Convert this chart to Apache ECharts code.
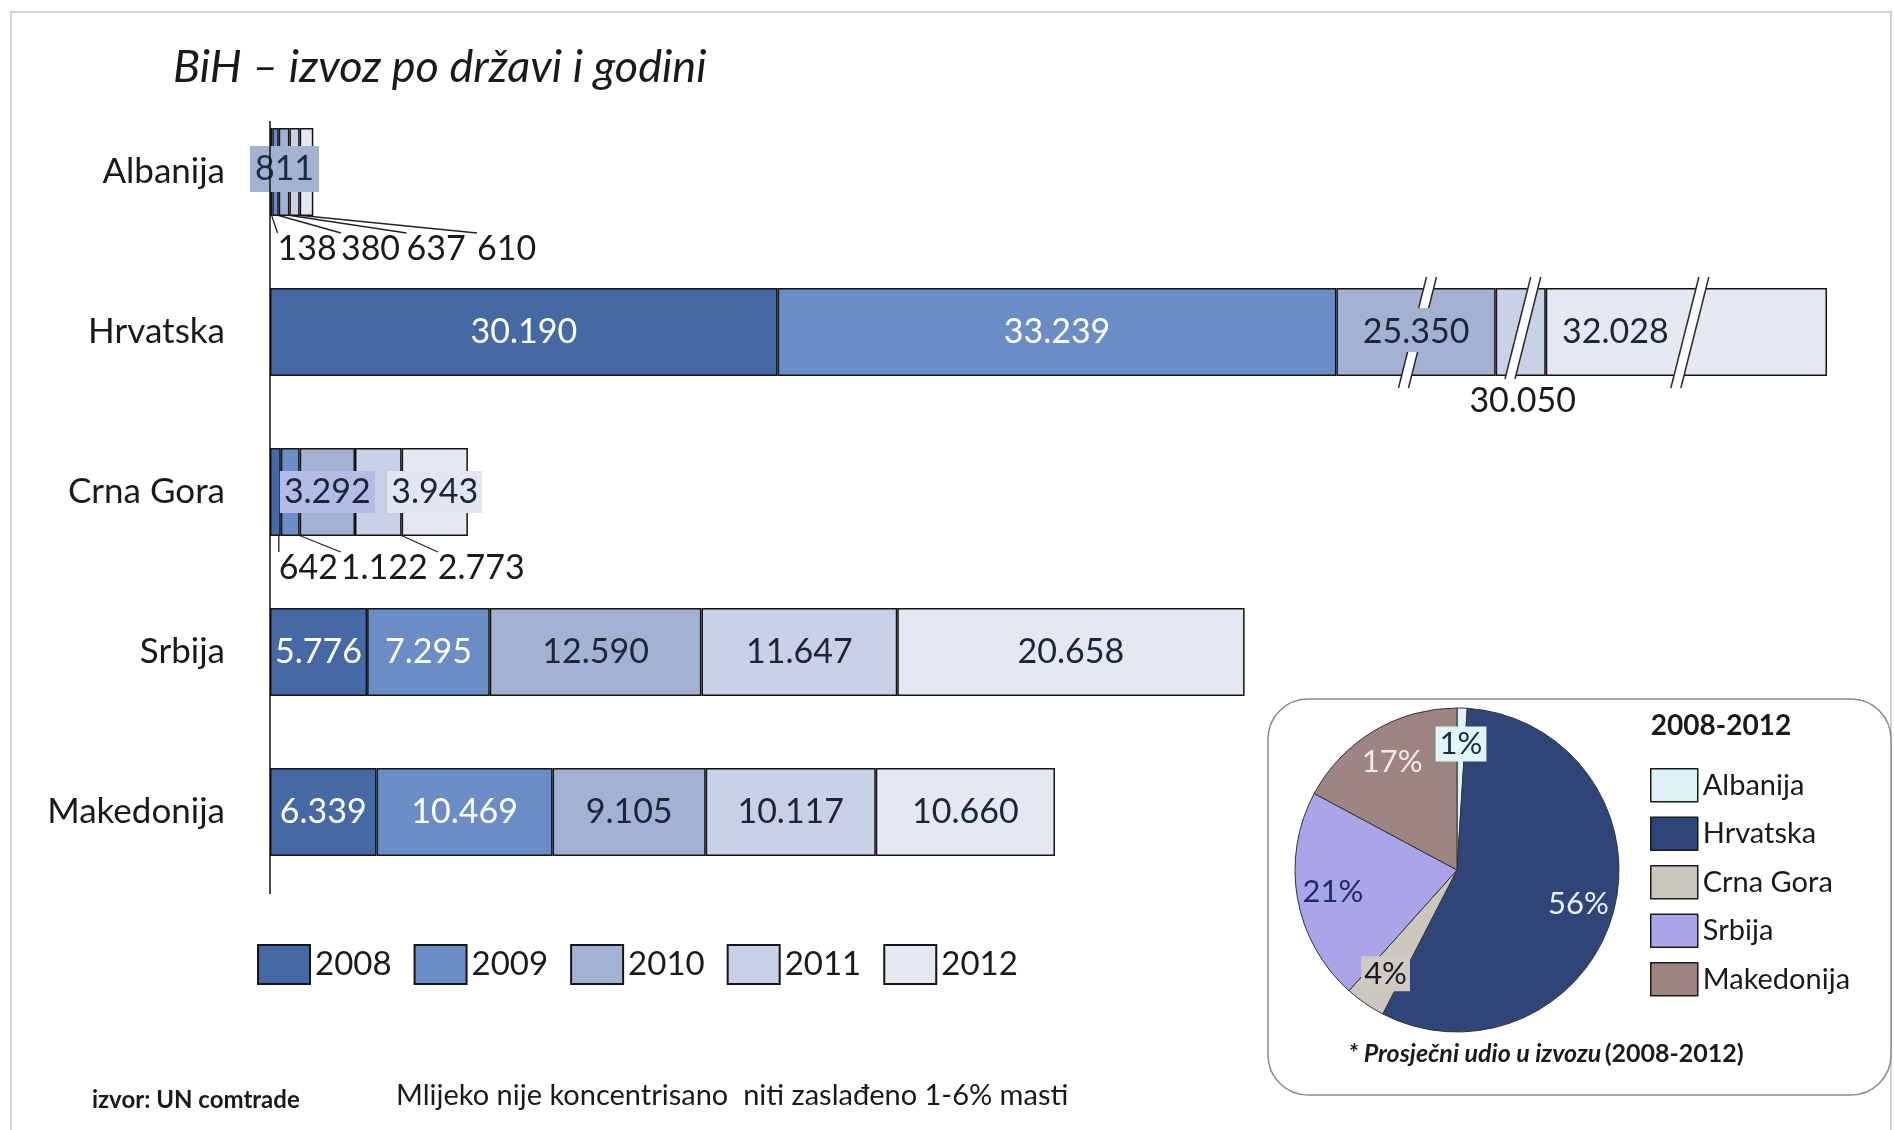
<!DOCTYPE html>
<html>
<head>
<meta charset="utf-8">
<script src="https://cdn.jsdelivr.net/npm/echarts@6/dist/echarts.min.js"></script>
<style>
  html, body { margin: 0; padding: 0; background: #fff; }
  #main { width: 1894px; height: 1130px; }
</style>
</head>
<body>
<div id="main"></div>
<script>
// categories and series
var countries = ['Albanija', 'Hrvatska', 'Crna Gora', 'Srbija', 'Makedonija'];
var years = ['2008', '2009', '2010', '2011', '2012'];
var v2008 = [138, 30190, 642, 5776, 6339];
var v2009 = [380, 33239, 1122, 7295, 10469];
var v2010 = [637, 25350, 3292, 12590, 9105];
var v2011 = [610, 30050, 2773, 11647, 10117];
var v2012 = [811, 32028, 3943, 20658, 10660];
// pie: average share 2008-2012 (%)
var pieShare = [1, 56, 4, 21, 17];
// broken axis ranges used on the Hrvatska bar
var hrBreaks = [[68250, 84130], [90330, 117400], [127400, 142700]];

var yearVals = [v2008, v2009, v2010, v2011, v2012];
var yearColors = ['#4569a4', '#6a8dc5', '#a3b2d3', '#c8d1e6', '#e4e8f1'];
var labelColors = ['#ffffff', '#ffffff', '#1c2438', '#1c2438', '#1c2438'];
var pieColors = ['#dcf2f6', '#2f4477', '#cbc7bf', '#aaa4e8', '#9d8682'];

// label moves [dx, dy, leader line]
var labelMoves = [
  [[36, 62, true], null, [33, 61, true], null, null],
  [[95, 62, true], null, [94, 61, true], null, null],
  [[152, 62, true], null, null, null, null],
  [[212, 62, true], [2, 69, false], [103, 61, true], null, null],
  [[-22, -3, false], [-71, 0, false], null, null, null]
];
var labelBoxes = {
  '4-0': { backgroundColor: '#a3b2cf', padding: [6, 5], color: '#1b2a4a' },
  '2-1': { backgroundColor: '#a3b2d3', padding: [2, 4] },
  '2-2': { backgroundColor: '#b4bbe4', padding: [4, 4] },
  '4-2': { backgroundColor: '#e1e6f1', padding: [4, 4] }
};

function fmt(v) {
  return String(v).replace(/\B(?=(\d{3})+(?!\d))/g, '.');
}

var chart = echarts.init(document.getElementById('main'));

var barSeries = years.map(function (y, si) {
  return {
    name: y,
    type: 'bar',
    stack: 'all',
    barWidth: 88,
    itemStyle: { color: yearColors[si], borderColor: '#151515', borderWidth: 1.5 },
    label: {
      show: true,
      position: 'inside',
      fontSize: 34,
      color: labelColors[si],
      formatter: function (p) {
        var m = labelMoves[p.seriesIndex][p.dataIndex];
        // empty first line lifts the leader line end above the number
        return (m && m[2]) ? '{s|}\n{n|' + fmt(p.value) + '}' : fmt(p.value);
      },
      rich: {
        s: { height: 30 },
        n: { fontSize: 34, color: '#1a1a1a' }
      }
    },
    labelLine: { lineStyle: { color: '#222', width: 1.3 } },
    labelLayout: function (p) {
      var m = labelMoves[p.seriesIndex][p.dataIndex];
      return m ? { dx: m[0], dy: m[1] } : {};
    },
    data: yearVals[si].map(function (v, ci) {
      var item = { value: v };
      var m = labelMoves[si][ci];
      var box = labelBoxes[si + '-' + ci];
      if (m && m[1] > 40) {
        item.label = { color: '#1a1a1a' };
        if (m[2]) item.labelLine = { show: true, lineStyle: { color: '#222', width: 1.3 } };
      }
      if (box) item.label = Object.assign(item.label || {}, box);
      return item;
    })
  };
});

var pieLabelStyles = [
  { color: '#1b2a4a', backgroundColor: '#e4f5f8', padding: [2, 4] },
  { color: '#e8f0ff' },
  { color: '#1b1b1b', backgroundColor: '#cfcbc4', padding: [2, 3] },
  { color: '#1f2a6b' },
  { color: '#f5e8e8' }
];

var option = {
  animation: false,
  textStyle: { fontFamily: 'Lato' },
  title: {
    text: 'BiH \u2013 izvoz po državi i godini',
    left: 168,
    top: 40,
    textStyle: { fontSize: 45, fontStyle: 'italic', fontWeight: 'normal', color: '#1a1a1a', fontFamily: 'Lato' }
  },
  legend: [
    {
      data: years,
      left: 252,
      top: 939,
      itemWidth: 52,
      itemHeight: 39,
      itemGap: 22,
      icon: 'rect',
      selectedMode: false,
      textStyle: { fontSize: 33, color: '#1a1a1a' }
    },
    {
      data: countries,
      orient: 'vertical',
      left: 1645,
      top: 763,
      itemWidth: 47,
      itemHeight: 33,
      itemGap: 14,
      icon: 'rect',
      selectedMode: false,
      itemStyle: { borderColor: '#1a1a1a', borderWidth: 1.5 },
      textStyle: { fontSize: 29, color: '#1a1a1a' }
    }
  ],
  grid: { left: 270, right: 67, top: 92, bottom: 238 },
  xAxis: {
    type: 'value',
    min: 0,
    max: 150857,
    show: false,
    breaks: hrBreaks.map(function (b) { return { start: b[0], end: b[1], gap: 0 }; }),
    breakArea: { show: false }
  },
  yAxis: {
    type: 'category',
    data: countries,
    inverse: true,
    axisLine: { show: false },
    axisTick: { show: false },
    axisLabel: { fontSize: 35, color: '#1a1a1a', margin: 45 }
  },
  series: barSeries.concat([
    {
      type: 'pie',
      name: 'udio',
      center: [1457, 870],
      radius: 162,
      startAngle: 90,
      label: { show: false },
      itemStyle: { borderColor: '#333', borderWidth: 1 },
      z: 4,
      data: countries.map(function (n, i) {
        return { name: n, value: pieShare[i], itemStyle: { color: pieColors[i] } };
      })
    },
    {
      type: 'pie',
      name: 'udio-labels',
      center: [1457, 870],
      radius: [84, 162],
      startAngle: 90,
      silent: true,
      z: 5,
      itemStyle: { color: 'transparent', borderWidth: 0 },
      label: {
        show: true,
        position: 'inside',
        fontSize: 31,
        formatter: function (p) { return p.value + '%'; }
      },
      data: countries.map(function (n, i) {
        return { name: n, value: pieShare[i], label: pieLabelStyles[i] };
      })
    }
  ]),
  graphic: {
    elements: [
      {
        type: 'rect', id: 'frame', z: -10,
        shape: { x: 11, y: 12, width: 1880, height: 1140 },
        style: { fill: 'none', stroke: '#c4c4c4', lineWidth: 1.5 }
      },
      {
        type: 'rect', id: 'pieBox', z: 1,
        shape: { x: 1268, y: 699, width: 623, height: 396, r: 40 },
        style: { fill: '#fff', stroke: '#8a8a8a', lineWidth: 1.5 }
      },
      {
        type: 'text', id: 'pieTitle', z: 6, x: 1721, y: 726,
        style: { text: '2008-2012', fontSize: 28, fontWeight: 'bold', fontFamily: 'Lato', fill: '#1a1a1a', align: 'center', verticalAlign: 'middle' }
      },
      {
        type: 'text', id: 'pieNote', z: 6, x: 1546, y: 1054,
        style: {
          text: '{a|* Prosječni udio u izvozu} {b|(2008-2012)}',
          align: 'center', verticalAlign: 'middle',
          rich: {
            a: { fontSize: 25, fontWeight: 'bold', fontStyle: 'italic', fontFamily: 'Lato', fill: '#1a1a1a' },
            b: { fontSize: 25, fontWeight: 'bold', fontFamily: 'Lato', fill: '#1a1a1a' }
          }
        }
      },
      {
        type: 'text', id: 'source', x: 92, y: 1100,
        style: { text: 'izvor: UN comtrade', fontSize: 24, fontWeight: 'bold', fontFamily: 'Lato', fill: '#1a1a1a', verticalAlign: 'middle' }
      },
      {
        type: 'text', id: 'product', x: 396, y: 1096,
        style: { text: 'Mlijeko nije koncentrisano  niti zaslađeno 1-6% masti', fontSize: 29, fontFamily: 'Lato', fill: '#1a1a1a', verticalAlign: 'middle' }
      }
    ]
  }
};

chart.setOption(option);

// axis line and break marks, placed through the chart's own scales
function drawMarks() {
  var x0 = chart.convertToPixel({ xAxisIndex: 0 }, 0);
  var yA = chart.convertToPixel({ yAxisIndex: 0 }, countries[0]);
  var yM = chart.convertToPixel({ yAxisIndex: 0 }, countries[4]);
  var yH = chart.convertToPixel({ yAxisIndex: 0 }, countries[1]);
  var els = [{
    type: 'line', id: 'axisLine', z: 6,
    shape: { x1: x0, y1: yA - 51, x2: x0, y2: yM + 82 },
    style: { stroke: '#111', lineWidth: 1.5 }
  }];
  hrBreaks.forEach(function (b, i) {
    var bx = chart.convertToPixel({ xAxisIndex: 0 }, b[0]);
    var t = yH - 55, btm = (i === 1) ? yH + 47 : yH + 56;
    var slantX = function (y) { return bx + 14 - 28 * (y - t) / (yH + 56 - t); };
    var parts = (i === 0) ? [[t, yH - 24], [yH + 20, btm]] : [[t, btm]];
    parts.forEach(function (p, j) {
      var xa = slantX(p[0]), xb = slantX(p[1]);
      var id = 'brk' + i + '_' + j;
      els.push({
        type: 'polygon', id: id + 'f', z: 10,
        shape: { points: [[xa - 5, p[0]], [xa + 5, p[0]], [xb + 5, p[1]], [xb - 5, p[1]]] },
        style: { fill: '#fff' }
      });
      els.push({
        type: 'line', id: id + 'l', z: 10,
        shape: { x1: xa - 5, y1: p[0], x2: xb - 5, y2: p[1] },
        style: { stroke: '#2a2a2a', lineWidth: 1.5 }
      });
      els.push({
        type: 'line', id: id + 'r', z: 10,
        shape: { x1: xa + 5, y1: p[0], x2: xb + 5, y2: p[1] },
        style: { stroke: '#2a2a2a', lineWidth: 1.5 }
      });
    });
  });
  chart.setOption({ graphic: { elements: els } });
}
drawMarks();
</script>
</body>
</html>
